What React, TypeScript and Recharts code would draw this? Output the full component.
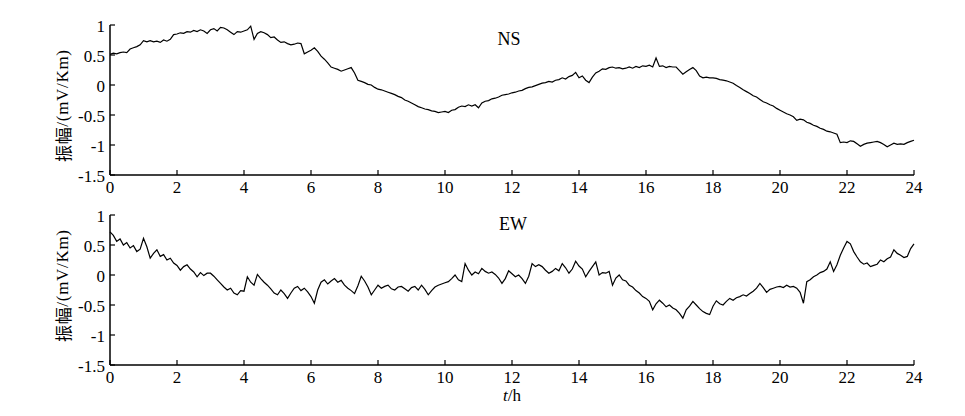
import { LineChart, Line, XAxis, YAxis } from "recharts";

// time axis, hours
const hourTicks = [0, 2, 4, 6, 8, 10, 12, 14, 16, 18, 20, 22, 24];
const ampTicks = [-1.5, -1, -0.5, 0, 0.5, 1];

// NS component, mV/Km, one value every 0.1 h
const nsValues = [
  0.51, 0.53, 0.52, 0.54, 0.55, 0.54, 0.6, 0.62, 0.64, 0.67,
  0.74, 0.72, 0.74, 0.72, 0.73, 0.71, 0.75, 0.73, 0.76, 0.84,
  0.85, 0.87, 0.86, 0.89, 0.88, 0.91, 0.89, 0.92, 0.9, 0.86,
  0.92, 0.94, 0.9, 0.96, 0.95, 0.92, 0.88, 0.84, 0.89, 0.88,
  0.9, 0.92, 0.98, 0.76, 0.86, 0.89, 0.87, 0.84, 0.79, 0.8,
  0.75, 0.71, 0.72, 0.69, 0.67, 0.68, 0.7, 0.69, 0.52, 0.55,
  0.58, 0.62, 0.56, 0.48, 0.43, 0.37, 0.3, 0.28, 0.26, 0.23,
  0.25, 0.27, 0.29, 0.2, 0.08, 0.06, 0.04, 0.01, 0.0, -0.04,
  -0.07, -0.08, -0.1, -0.12, -0.14, -0.16, -0.19, -0.21, -0.25, -0.27,
  -0.3, -0.33, -0.36, -0.38, -0.4, -0.41, -0.43, -0.44, -0.46, -0.45,
  -0.44, -0.46, -0.42, -0.41, -0.37, -0.35, -0.36, -0.33, -0.35, -0.33,
  -0.38, -0.3, -0.27, -0.26, -0.23, -0.22, -0.2, -0.17, -0.16, -0.15,
  -0.13, -0.12, -0.1, -0.09, -0.06, -0.04, -0.03, -0.01, 0.01, 0.03,
  0.04, 0.06, 0.05, 0.08, 0.09, 0.12, 0.1, 0.14, 0.16, 0.21,
  0.12, 0.15, 0.08, 0.04, 0.13, 0.2, 0.23, 0.27, 0.26, 0.29,
  0.3, 0.28, 0.29, 0.27, 0.28, 0.3, 0.28, 0.31, 0.29, 0.32,
  0.31, 0.33, 0.3, 0.45, 0.31, 0.32, 0.29, 0.31, 0.3, 0.3,
  0.24, 0.18, 0.22, 0.26, 0.29, 0.24, 0.15, 0.12, 0.13, 0.12,
  0.12, 0.11, 0.09, 0.08, 0.07, 0.05, 0.03, -0.01, -0.04, -0.08,
  -0.11, -0.14, -0.18, -0.2, -0.24, -0.28, -0.3, -0.33, -0.35, -0.39,
  -0.42, -0.45, -0.48, -0.5, -0.53, -0.59, -0.57, -0.58, -0.62, -0.64,
  -0.67, -0.69, -0.72, -0.74, -0.77, -0.78, -0.8, -0.82, -0.96, -0.95,
  -0.96, -0.93, -0.94, -0.98, -1.02, -0.99, -0.97, -0.96, -0.95, -0.94,
  -0.96, -0.99, -1.03, -1.0, -0.97, -0.99, -0.98, -0.99, -0.96, -0.94,
  -0.92,
];

// EW component, mV/Km, one value every 0.1 h
const ewValues = [
  0.72, 0.66, 0.56, 0.6, 0.5, 0.54, 0.45, 0.49, 0.39, 0.43,
  0.61, 0.47, 0.28, 0.36, 0.42, 0.31, 0.34, 0.25, 0.28, 0.2,
  0.16, 0.08, 0.14, 0.17, 0.1, 0.05, -0.03, 0.04, -0.01, 0.03,
  0.03, -0.02, -0.08, -0.14, -0.2, -0.25, -0.22, -0.3, -0.33, -0.26,
  -0.27, -0.03, -0.12, -0.17, 0.01, -0.06, -0.12, -0.17, -0.23, -0.3,
  -0.33, -0.25, -0.31, -0.39, -0.3, -0.22, -0.19, -0.26, -0.22, -0.28,
  -0.36, -0.47, -0.25, -0.12, -0.08, -0.15, -0.1, -0.06, -0.12, -0.09,
  -0.17, -0.22, -0.26, -0.31, -0.18, -0.02, -0.1, -0.2, -0.33, -0.25,
  -0.17, -0.22, -0.19, -0.17, -0.23, -0.25, -0.2, -0.19, -0.23, -0.27,
  -0.21, -0.19, -0.25, -0.17, -0.24, -0.33, -0.26, -0.2, -0.17, -0.15,
  -0.13, -0.11, -0.06, 0.0, -0.08, -0.11, 0.19, 0.08, 0.0, 0.05,
  0.02, 0.11, 0.06, 0.03, 0.05, 0.01, -0.05, -0.14, -0.06, 0.07,
  0.02, -0.03, 0.0, -0.06, -0.14, -0.02, 0.19, 0.14, 0.17, 0.14,
  0.08, 0.03, 0.06, 0.11, 0.07, 0.19, 0.12, 0.03, 0.1, 0.23,
  0.15, 0.1, -0.03, 0.06, 0.14, 0.22, 0.0, 0.04, 0.03, 0.06,
  -0.17, -0.05, 0.0, -0.08, -0.1, -0.17, -0.2, -0.26, -0.3, -0.36,
  -0.39, -0.44, -0.58, -0.48, -0.42, -0.47, -0.53, -0.5, -0.55, -0.58,
  -0.64, -0.72, -0.58, -0.52, -0.44, -0.5, -0.56, -0.61, -0.64, -0.66,
  -0.52, -0.43, -0.48, -0.5, -0.44, -0.39, -0.42, -0.38, -0.36, -0.33,
  -0.35, -0.31, -0.27, -0.22, -0.14, -0.21, -0.29, -0.24, -0.22, -0.2,
  -0.19, -0.21, -0.17, -0.2, -0.19, -0.22, -0.29, -0.47, -0.11, -0.08,
  -0.03, 0.0, 0.04, 0.06, 0.1, 0.22, 0.06, 0.17, 0.33, 0.45,
  0.56, 0.52, 0.39, 0.3, 0.22, 0.18, 0.2, 0.14, 0.16, 0.18,
  0.25, 0.22, 0.27, 0.3, 0.42, 0.36, 0.33, 0.29, 0.31, 0.44,
  0.52,
];

const hours = nsValues.map((_, i) => i / 10);
const nsData = hours.map((t, i) => ({ t, v: nsValues[i] }));
const ewData = hours.map((t, i) => ({ t, v: ewValues[i] }));

const serif = "Liberation Serif, Times New Roman, serif";
const textStyle = { fontFamily: serif, fontSize: 17 };

function XTick(props: any) {
  const { x, y, payload } = props;
  return (
    <g>
      <line x1={x} x2={x} y1={y} y2={y - 5} stroke="#000" strokeWidth={1.2} />
      <text x={x} y={y + 18} textAnchor="middle" style={textStyle} fill="#000">
        {payload.value}
      </text>
    </g>
  );
}

function YTick(props: any) {
  const { x, y, payload } = props;
  return (
    <g>
      <line x1={x} x2={x + 5} y1={y} y2={y} stroke="#000" strokeWidth={1.2} />
      <text x={x - 5} y={y + 6.5} textAnchor="end" style={textStyle} fill="#000">
        {payload.value}
      </text>
    </g>
  );
}

function Panel({ data, top }: { data: { t: number; v: number }[]; top: number }) {
  return (
    <div style={{ position: "absolute", left: 0, top }}>
      <LineChart width={965} height={205} data={data} margin={{ top: 25, right: 51, bottom: 0, left: 50 }}>
        <XAxis
          dataKey="t"
          type="number"
          domain={[0, 24]}
          ticks={hourTicks}
          interval={0}
          height={30}
          tickSize={0}
          tickMargin={0}
          tick={<XTick />}
          axisLine={{ stroke: "#000", strokeWidth: 1.5 }}
        />
        <YAxis
          type="number"
          domain={[-1.5, 1]}
          ticks={ampTicks}
          interval={0}
          width={60}
          tickSize={0}
          tickMargin={0}
          tick={<YTick />}
          axisLine={{ stroke: "#000", strokeWidth: 1.5 }}
          allowDataOverflow
        />
        <Line
          type="linear"
          dataKey="v"
          stroke="#000"
          strokeWidth={1.2}
          dot={false}
          isAnimationActive={false}
        />
      </LineChart>
    </div>
  );
}

function YLabel({ cx, cy }: { cx: number; cy: number }) {
  return (
    <text
      x={cx}
      y={cy}
      transform={`rotate(-90 ${cx} ${cy})`}
      textAnchor="middle"
      dominantBaseline="central"
      fill="#000"
      textLength={112}
      lengthAdjust="spacing"
      style={{ fontFamily: serif, fontSize: 17 }}
    >
      <tspan style={{ fontFamily: "Noto Sans CJK SC, sans-serif" }}>振幅</tspan>
      <tspan>/(mV/Km)</tspan>
    </text>
  );
}

export default function App() {
  return (
    <div
      style={{
        position: "absolute",
        left: 0,
        top: 0,
        width: 965,
        height: 416,
        background: "#fff",
        fontFamily: serif,
      }}
    >
      <Panel data={nsData} top={0} />
      <Panel data={ewData} top={190} />
      <svg width={965} height={416} style={{ position: "absolute", left: 0, top: 0, pointerEvents: "none" }}>
        <text x={509} y={45} textAnchor="middle" fill="#000" style={{ fontFamily: serif, fontSize: 18 }}>
          NS
        </text>
        <text x={513} y={230} textAnchor="middle" fill="#000" style={{ fontFamily: serif, fontSize: 18 }}>
          EW
        </text>
        <YLabel cx={62} cy={106} />
        <YLabel cx={62} cy={286} />
        <text x={512} y={401} textAnchor="middle" fill="#000" style={textStyle}>
          <tspan style={{ fontStyle: "italic" }}>t</tspan>/h
        </text>
      </svg>
    </div>
  );
}
